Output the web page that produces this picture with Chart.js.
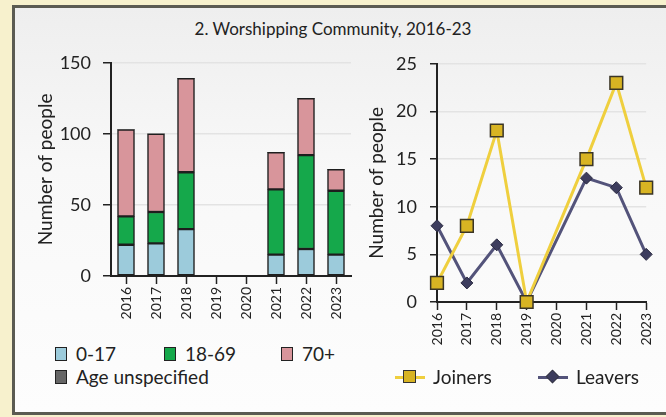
<!DOCTYPE html>
<html>
<head>
<meta charset="utf-8">
<script src="https://cdn.jsdelivr.net/npm/chart.js@4.4.1/dist/chart.umd.min.js"></script>
<style>
body{margin:0;width:666px;height:417px;overflow:hidden;background:#f7f1cd;font-family:Lato,"Open Sans",sans-serif;color:#222;position:relative}
#panel{position:absolute;left:12px;top:5px;width:660px;height:404px;border:3px solid #5b5b52;background:linear-gradient(#eeeeee,#f8f8f8 40%,#fdfdfd)}
#title{position:absolute;left:0;width:666px;top:18px;text-align:center;font-size:17px}
canvas{position:absolute}
#c1{left:20px;top:40px}
#c2{left:340px;top:40px}
.leg{position:absolute;font-size:19px;line-height:20px;white-space:nowrap;display:flex;align-items:center}
.box{display:inline-block;width:10px;height:12px;border:1.5px solid #222;margin-right:9px}
.lm{display:inline-block;position:relative;width:30px;height:14px;margin-right:8px}
.lm i{position:absolute;left:0;right:0;top:6px;height:3px}
.lm b{position:absolute;left:8px;top:0;width:11px;height:11px;border:1.5px solid #333}
</style>
</head>
<body>
<div id="panel"></div>
<div id="title">2. Worshipping Community, 2016-23</div>
<canvas id="c1" width="340" height="300"></canvas>
<canvas id="c2" width="326" height="312"></canvas>
<div id="legends"></div>
<script>
const years = ['2016','2017','2018','2019','2020','2021','2022','2023'];
const age0to17 = [22,23,33,null,null,15,19,15];
const age18to69 = [20,22,40,null,null,46,66,45];
const age70plus = [61,55,66,null,null,26,40,15];
const ageUnspecified = [0,0,0,null,null,0,0,0];
const joiners = [2,8,18,0,null,15,23,12];
const leavers = [8,2,6,0,null,13,12,5];
const leftTicks = [0,50,100,150];
const rightTicks = [0,5,10,15,20,25];

const font = 'Lato';
const ink = '#222';

function yTitle(pad){
return {display:true,text:'Number of people',color:ink,font:{family:font,size:19},padding:{top:pad,bottom:0}};
}

new Chart(document.getElementById('c1'),{
type:'bar',
data:{labels:years,datasets:[
{label:'0-17',data:age0to17,backgroundColor:'#9ccbdb'},
{label:'18-69',data:age18to69,backgroundColor:'#15a84b'},
{label:'70+',data:age70plus,backgroundColor:'#d8959b'},
{label:'Age unspecified',data:ageUnspecified,backgroundColor:'#666',borderWidth:0}
].map(d=>Object.assign({borderColor:'#1e1e1e',borderWidth:1.5,borderSkipped:false,barThickness:17},d))},
options:{
responsive:false,animation:false,
layout:{padding:{left:0,right:9,top:13,bottom:0}},
plugins:{legend:{display:false},tooltip:{enabled:false}},
scales:{
x:{stacked:true,
afterFit:s=>{s.height=64},
grid:{offset:false,drawOnChartArea:false,tickLength:8,tickColor:ink,tickWidth:1.5},
border:{color:ink,width:2},
ticks:{autoSkip:false,minRotation:90,maxRotation:90,padding:3,color:ink,font:{family:font,size:14}}},
y:{stacked:true,min:0,max:150,
afterFit:s=>{s.width=91},
afterBuildTicks:s=>{s.ticks=leftTicks.map(v=>({value:v}))},
grid:{color:'#e3e3e3',lineWidth:1.5,tickLength:8,tickColor:ink,tickWidth:1.5},
border:{color:ink,width:2},
ticks:{padding:12,color:ink,font:{family:font,size:18}},
title:yTitle(14)}
}
}
});

new Chart(document.getElementById('c2'),{
type:'line',
data:{labels:years,datasets:[
{label:'Joiners',data:joiners,borderColor:'#efcf3e',borderWidth:3,pointStyle:'rect',pointRadius:9,
pointBackgroundColor:'#d8b423',pointBorderColor:'#3a3526',pointBorderWidth:1.5,spanGaps:true,clip:false,tension:0},
{label:'Leavers',data:leavers,borderColor:'#53537a',borderWidth:3,pointStyle:'rectRot',pointRadius:6,
pointBackgroundColor:'#3d3d5e',pointBorderColor:'#2a2a40',pointBorderWidth:1,spanGaps:true,clip:false,tension:0}
]},
options:{
responsive:false,animation:false,
layout:{padding:{left:0,right:6,top:15,bottom:0}},
plugins:{legend:{display:false},tooltip:{enabled:false}},
scales:{
x:{offset:false,
afterFit:s=>{s.height=50},
grid:{drawOnChartArea:false,tickLength:8,tickColor:ink,tickWidth:1.5},
border:{color:ink,width:2},
ticks:{autoSkip:false,minRotation:90,maxRotation:90,padding:3,color:ink,font:{family:font,size:14}}},
y:{min:0,max:25,
afterFit:s=>{s.width=97},
afterBuildTicks:s=>{s.ticks=rightTicks.map(v=>({value:v}))},
grid:{color:'#e3e3e3',lineWidth:1.5,tickLength:7,tickColor:ink,tickWidth:1.5},
border:{color:ink,width:2},
ticks:{padding:13,color:ink,font:{family:font,size:18}},
title:yTitle(25)}
}
}
});

// html legends
const legendItems = [
{x:55,y:344,html:'<span class="box" style="background:#9ccbdb"></span>0-17'},
{x:164,y:344,html:'<span class="box" style="background:#15a84b"></span>18-69'},
{x:281,y:344,html:'<span class="box" style="background:#d8959b"></span>70+'},
{x:55,y:367,html:'<span class="box" style="background:#666"></span>Age unspecified'},
{x:395,y:367,html:'<span class="lm"><i style="background:#efcf3e"></i><b style="background:#d8b423"></b></span>Joiners'},
{x:538,y:367,html:'<span class="lm"><i style="background:#53537a"></i><b style="background:#3d3d5e;transform:rotate(45deg) scale(.75);left:8px"></b></span>Leavers'}
];
document.getElementById('legends').innerHTML = legendItems.map(l=>`<div class="leg" style="left:${l.x}px;top:${l.y}px">${l.html}</div>`).join('');
</script>
</body>
</html>
